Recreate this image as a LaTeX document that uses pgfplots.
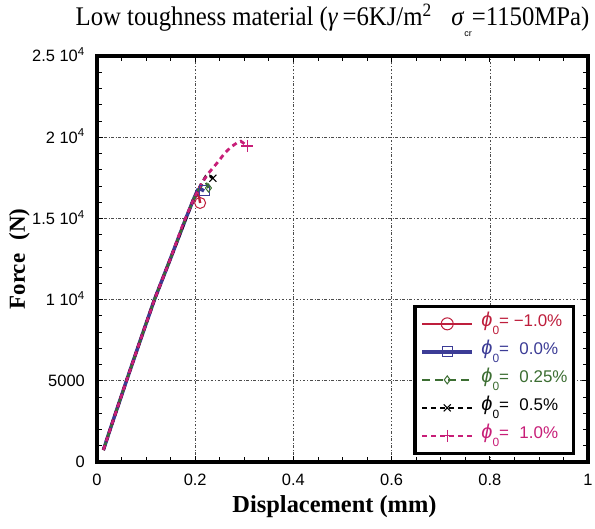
\documentclass[border=0pt]{standalone}
\usepackage{pgfplots}
\pgfplotsset{compat=1.18}
\usepackage{fontspec}
\setmainfont{Liberation Serif}
\setsansfont{Liberation Sans}
\newfontfamily\titlefont[FakeStretch=0.92]{Liberation Serif}
\usetikzlibrary{plotmarks}
\definecolor{cred}{HTML}{BE1E3C}
\definecolor{cblue}{HTML}{3C3C96}
\definecolor{cgreen}{HTML}{3C6E32}
\definecolor{cmag}{HTML}{C81E78}
\newcommand{\phizero}{{\fontsize{20}{20}\selectfont\textit{ϕ}}\raisebox{-8bp}{\fontsize{12}{12}\selectfont 0}}
\begin{document}
\begin{tikzpicture}[x=1bp,y=1bp]
\useasboundingbox (-97,-67) rectangle (498,462);
\begin{axis}[
  at={(0,0)}, anchor=south west,
  scale only axis,
  width=491bp, height=406bp,
  xmin=0, xmax=1, ymin=0, ymax=25000,
  xtick={0,0.2,0.4,0.6,0.8,1},
  xticklabels={0,0.2,0.4,0.6,0.8,1},
  ytick={0,5000,10000,15000,20000,25000},
  yticklabels={0,5000,1 10\textsuperscript{4},1.5 10\textsuperscript{4},2 10\textsuperscript{4},2.5 10\textsuperscript{4}},
  minor x tick num=3, minor y tick num=4,
  tick align=inside, xtick pos=both, ytick pos=both,
  major tick length=6bp, minor tick length=5bp,
  tick style={black, line width=0.8bp},
  axis line style={line width=4.5bp},
  grid=major,
  major grid style={black!70, line width=0.6bp, dash pattern=on 2.5bp off 2bp on 0.6bp off 2bp},
  tick label style={font=\sffamily\fontsize{16.5}{16.5}\selectfont},
  xticklabel style={anchor=base, inner sep=0pt, yshift=-24bp},
  yticklabel style={anchor=base east, inner sep=0pt, xshift=-12bp, yshift=-6bp},
  scaled ticks=false,
  xlabel={\bfseries Displacement (mm)},
  ylabel={\bfseries Force\,\, (N)},
  xlabel style={font=\rmfamily\fontsize{24.5}{24.5}\selectfont, at={(0.5,0)}, anchor=base, yshift=-50bp, xshift=-8bp, inner sep=0pt},
  ylabel style={font=\rmfamily\fontsize{23}{23}\selectfont, at={(0,0.5)}, anchor=base, yshift=72bp, inner sep=0pt},
  title={Low toughness material (\textit{γ}\,=6KJ/m\textsuperscript{2}\,\,\, \textit{σ}\raisebox{-11bp}{\sffamily\fontsize{9}{9}\selectfont cr}=1150MPa)},
  title style={font=\titlefont\fontsize{27}{27}\selectfont, at={(0.5,1)}, anchor=base, yshift=25bp, xshift=-10bp, inner sep=0pt},
  legend cell align=left,
  legend style={at={(0.974,0.017)}, anchor=south east, draw=black, line width=3.5bp,
    font=\sffamily\fontsize{17}{17}\selectfont, row sep=3bp, inner xsep=5bp, inner ysep=5bp,
    nodes={inner sep=1bp, text height=14bp, text depth=9bp},
    /tikz/every odd column/.append style={column sep=6bp}},
  legend image code/.code={\draw[mark repeat=2,mark phase=2] plot coordinates {(0bp,0bp) (25bp,0bp) (50bp,0bp)};},
]
% red  -1.0%
\addplot[cred, line width=2.4bp, forget plot] coordinates {
(0.013,740) (0.03,2300) (0.06,5000) (0.09,7650) (0.117,10000) (0.15,12550) (0.181,15000) (0.196,16130) (0.205,16500) (0.208,16300) (0.210,15950)};
\addplot[cred, only marks, mark=o, mark size=5.5bp, line width=1bp, forget plot] coordinates {(0.210,15950)};
% blue 0.0%
\addplot[cblue, line width=3.5bp, forget plot] coordinates {
(0.013,740) (0.03,2300) (0.06,5000) (0.09,7650) (0.117,10000) (0.15,12550) (0.181,15000) (0.196,16130) (0.205,16750) (0.212,16800) (0.218,16690)};
\addplot[cblue, only marks, mark=square, mark size=5bp, line width=1bp, forget plot] coordinates {(0.218,16690)};
% green 0.25%
\addplot[cgreen, line width=2.4bp, dash pattern=on 8bp off 4bp, forget plot] coordinates {
(0.013,740) (0.03,2300) (0.06,5000) (0.09,7650) (0.117,10000) (0.15,12550) (0.181,15000) (0.196,16130) (0.205,16700) (0.215,17100) (0.222,17200) (0.227,16870)};
\addplot[cgreen, only marks, mark=diamond, mark size=4bp, line width=1bp, forget plot] coordinates {(0.227,16870)};
% black 0.5%
\addplot[black, line width=2.8bp, dash pattern=on 5bp off 4bp, forget plot] coordinates {
(0.013,740) (0.03,2300) (0.06,5000) (0.09,7650) (0.117,10000) (0.15,12550) (0.181,15000) (0.196,16130) (0.213,17160) (0.222,17600) (0.229,17650) (0.236,17470)};
\addplot[black, only marks, mark=x, mark size=5bp, line width=1bp, forget plot] coordinates {(0.236,17470)};
% magenta 1.0%
\addplot[cmag, line width=2.8bp, dash pattern=on 5bp off 4bp, forget plot] coordinates {
(0.013,740) (0.03,2300) (0.06,5000) (0.09,7650) (0.117,10000) (0.15,12550) (0.176,14700) (0.196,16130) (0.213,17160) (0.227,17780) (0.244,18390) (0.261,19050) (0.274,19420) (0.285,19650) (0.293,19750) (0.300,19600) (0.306,19460)};
\addplot[cmag, only marks, mark=+, mark size=6bp, line width=1.2bp, forget plot] coordinates {(0.306,19460)};
% legend
\addlegendimage{cred, line width=2.2bp, mark=o, mark size=6bp, mark options={solid, line width=1bp, fill=white}}
\addlegendentry{\textcolor{cred}{\phizero= −1.0\%}\hspace{8bp}}
\addlegendimage{cblue, line width=4.5bp, mark=square, mark size=5bp, mark options={solid, line width=1bp, fill=white}}
\addlegendentry{\textcolor{cblue}{\phizero=\,\, 0.0\%}}
\addlegendimage{cgreen, line width=2.2bp, dash pattern=on 8bp off 5bp, mark=diamond, mark size=4bp, mark options={solid, line width=1bp, fill=white}}
\addlegendentry{\textcolor{cgreen}{\phizero=\,\, 0.25\%}}
\addlegendimage{black, line width=2.5bp, dash pattern=on 5bp off 4bp, mark=x, mark size=5bp, mark options={solid, line width=1bp}}
\addlegendentry{\phizero=\,\, 0.5\%}
\addlegendimage{cmag, line width=2.5bp, dash pattern=on 5bp off 4bp, mark=+, mark size=6bp, mark options={solid, line width=1.2bp}}
\addlegendentry{\textcolor{cmag}{\phizero=\,\, 1.0\%}}
\end{axis}
\end{tikzpicture}
\end{document}
